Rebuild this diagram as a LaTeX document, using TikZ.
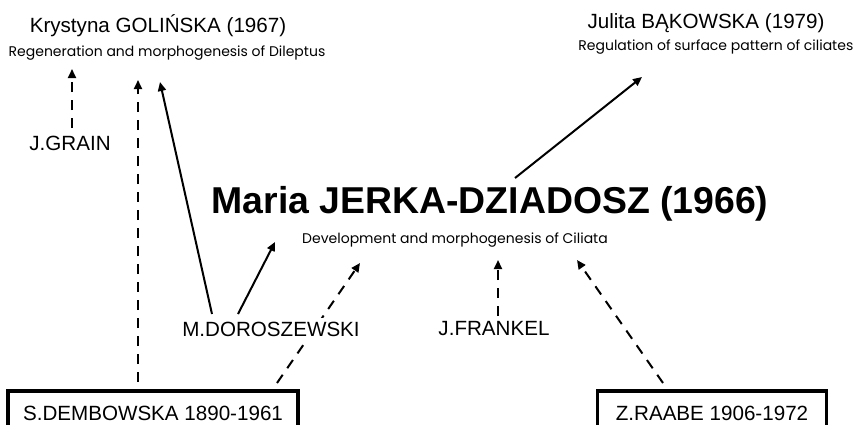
\documentclass[tikz,border=0pt]{standalone}
\usepackage{fontspec}
\setmainfont{Liberation Sans}
\newfontfamily\topicfont{Poppins}
\usetikzlibrary{arrows.meta, calc, backgrounds}

\begin{document}
\begin{tikzpicture}[
    x=0.5pt, y=-0.5pt,
    person/.style={inner sep=0pt, font=\fontsize{10.3}{12}\selectfont},
    topic/.style={inner sep=0pt, font=\topicfont\fontsize{7}{8}\selectfont},
    master/.style={person, draw, line width=1.8pt, minimum height=22pt},
    link/.style={-{Triangle[length=4.5pt,width=4pt]}, line width=1pt},
    hint/.style={link, dash pattern=on 5pt off 4pt}
  ]
  \useasboundingbox (0,0) rectangle (854,424);
  \clip (0,0) rectangle (854,424);

  % Doctorates on top
  \node[person] (golinska) at (158,26) {Krystyna GOLIŃSKA (1967)};
  \node[topic] (golinskaTopic) at (167,53)
    {Regeneration and morphogenesis of Dileptus};
  \node[person] (bakowska) at (706,23) {Julita BĄKOWSKA (1979)};
  \node[topic, anchor=west] (bakowskaTopic) at (578,47)
    {Regulation of surface pattern of ciliates};

  % Central doctorate
  \node[person, font=\bfseries\fontsize{18.7}{22}\selectfont] (jerka)
    at (490,204) {Maria JERKA-DZIADOSZ (1966)};
  \node[topic] (jerkaTopic) at (455,240)
    {Development and morphogenesis of Ciliata};

  % Advisers and teachers
  \node[person] (grain) at (70,143) {J.GRAIN};
  \node[person, fill=white, inner sep=2pt] (doroszewski) at (271,329)
    {M.DOROSZEWSKI};
  \node[person] (frankel) at (494,329) {J.FRANKEL};
  \node[master, minimum width=145pt] (dembowska) at (153,413)
    {S.DEMBOWSKA 1890-1961};
  \node[master, minimum width=114.5pt] (raabe) at (712,413)
    {Z.RAABE 1906-1972};

  % Connectors, behind the names
  \begin{scope}[on background layer]
    \draw[hint] ($(grain)+(2,-15)$) -- ($(golinskaTopic)+(-95,16)$);
    \draw[hint] ($(dembowska)+(-15,-31)$) -- ($(golinskaTopic)+(-29,27)$);
    \draw[link] ($(doroszewski)+(-59,-15)$) -- ($(golinskaTopic)+(-7,29)$);
    \draw[link] ($(doroszewski)+(-33,-15)$) -- ($(jerkaTopic)+(-180,2)$);
    \draw[hint] ($(dembowska)+(124,-30)$) -- ($(jerkaTopic)+(-95,23)$);
    \draw[hint] ($(frankel)+(4,-13)$) -- ($(jerkaTopic)+(43,20)$);
    \draw[hint] ($(raabe)+(-49,-30)$) -- ($(jerkaTopic)+(122,20)$);
    \draw[link] ($(jerka)+(25,-26)$) -- ($(bakowskaTopic.west)+(64,30)$);
  \end{scope}
\end{tikzpicture}
\end{document}
